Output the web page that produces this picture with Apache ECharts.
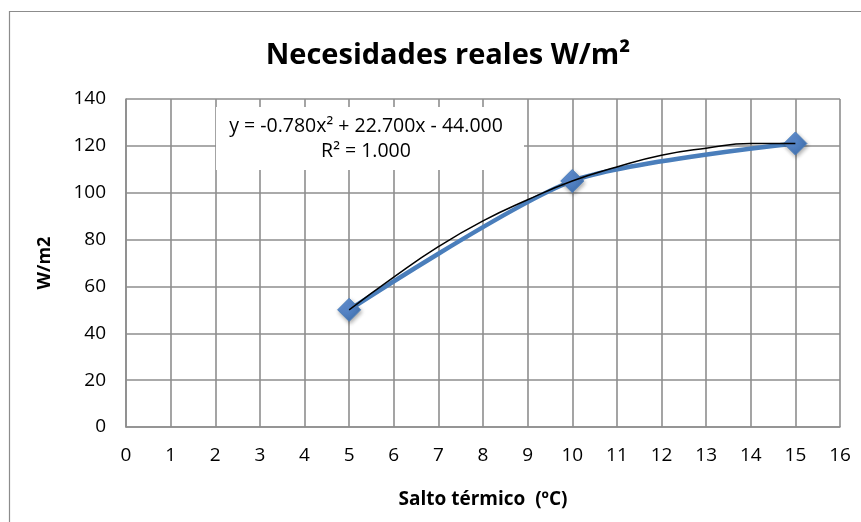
<!DOCTYPE html>
<html>
<head>
<meta charset="utf-8">
<script src="https://cdn.jsdelivr.net/npm/echarts@6/dist/echarts.min.js"></script>
<style>
  html, body { margin: 0; padding: 0; background: #fff; overflow: hidden; }
  #main { width: 861px; height: 522px; }
</style>
</head>
<body>
<div id="main"></div>
<script>
// datos
const saltoTermico = [5, 10, 15];
const necesidades = [50, 105, 121];
// línea de tendencia (polinómica)
const trendX = [5, 6, 7, 8, 9, 10, 11, 12, 13, 14, 15];
const trendY = [50, 64, 77, 88, 97, 105, 111, 116, 119, 121, 121];
const xTicks = [0, 1, 2, 3, 4, 5, 6, 7, 8, 9, 10, 11, 12, 13, 14, 15, 16];
const yTicks = [0, 20, 40, 60, 80, 100, 120, 140];

const font = 'Open Sans';
const chart = echarts.init(document.getElementById('main'));

const option = {
  animation: false,
  title: {
    text: 'Necesidades reales W/m²',
    left: 443,
    top: 36,
    textAlign: 'center',
    textStyle: { fontFamily: font, fontSize: 29, fontWeight: 'bold', color: '#000' }
  },
  grid: { left: 126, top: 99, right: 21, bottom: 95 },
  xAxis: {
    type: 'value',
    min: xTicks[0],
    max: xTicks[xTicks.length - 1],
    interval: 1,
    name: 'Salto térmico  (ºC)',
    nameLocation: 'middle',
    nameGap: 63,
    nameTextStyle: { fontFamily: font, fontSize: 19, fontWeight: 'bold', color: '#000' },
    axisLine: { lineStyle: { color: '#8e8e8e', width: 1.6 } },
    axisTick: { show: false },
    axisLabel: { fontFamily: font, fontSize: 19, color: '#000', margin: 19 },
    splitLine: { lineStyle: { color: '#8e8e8e', width: 1.6 } }
  },
  yAxis: {
    type: 'value',
    min: yTicks[0],
    max: yTicks[yTicks.length - 1],
    interval: 20,
    name: 'W/m2',
    nameLocation: 'middle',
    nameGap: 72,
    nameTextStyle: { fontFamily: font, fontSize: 18, fontWeight: 'bold', color: '#000' },
    axisLine: { show: true, lineStyle: { color: '#8e8e8e', width: 1.6 } },
    axisTick: { show: false },
    axisLabel: { fontFamily: font, fontSize: 19, color: '#000', margin: 20 },
    splitLine: { lineStyle: { color: '#8e8e8e', width: 1.6 } }
  },
  graphic: [
    {
      // borde del área del gráfico (solo izquierda y arriba visibles)
      type: 'polyline',
      z: 0,
      silent: true,
      shape: { points: [[9.5, 522], [9.5, 11.5], [861, 11.5]] },
      style: { fill: 'none', stroke: '#8c8c8c', lineWidth: 1.2 }
    },
    {
      type: 'rect',
      z: 99,
      shape: { x: 216, y: 107, width: 308, height: 63 },
      style: { fill: '#fff' }
    },
    {
      type: 'text',
      x: 366,
      y: 114,
      z: 100,
      style: {
        text: 'y = -0.780x² + 22.700x - 44.000\nR² = 1.000',
        align: 'center',
        fontFamily: font,
        fontSize: 19.5,
        lineHeight: 25,
        fill: '#000'
      }
    }
  ],
  series: [
    {
      type: 'line',
      data: saltoTermico.map((x, i) => [x, necesidades[i]]),
      smooth: 0.25,
      symbol: 'diamond',
      symbolSize: 23,
      lineStyle: { color: '#4a7ebb', width: 4.5 },
      itemStyle: {
        color: {
          type: 'linear', x: 0, y: 0, x2: 1, y2: 1,
          colorStops: [{ offset: 0, color: '#6d9be0' }, { offset: 1, color: '#3a6aa8' }]
        },
        borderColor: '#4a7ebb',
        borderWidth: 1,
        shadowColor: 'rgba(0,0,0,0.35)',
        shadowBlur: 4,
        shadowOffsetX: 1,
        shadowOffsetY: 2
      },
      z: 3
    },
    {
      type: 'line',
      data: trendX.map((x, i) => [x, trendY[i]]),
      smooth: true,
      symbol: 'none',
      lineStyle: { color: '#000', width: 1.5 },
      z: 4
    }
  ]
};
chart.setOption(option);
</script>
</body>
</html>
